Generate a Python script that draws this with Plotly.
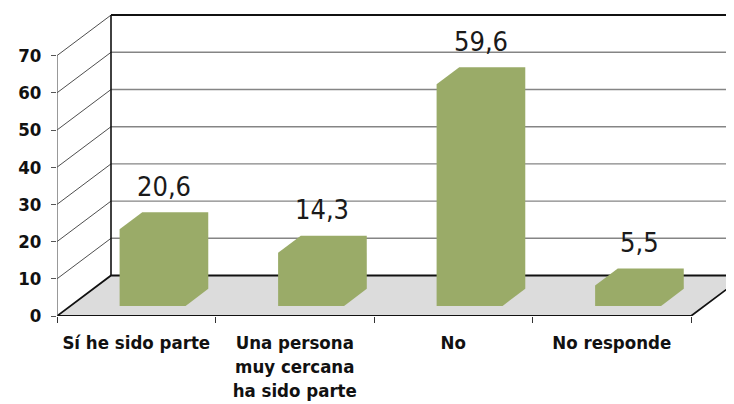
import plotly.graph_objects as go

# ---- data ----
categories = ["Sí he sido parte", "Una persona<br>muy cercana<br>ha sido parte", "No", "No responde"]
values = [20.6, 14.3, 59.6, 5.5]
value_labels = ["20,6", "14,3", "59,6", "5,5"]
y_ticks = [0, 10, 20, 30, 40, 50, 60, 70]

# ---- geometry (in axis units) ----
PX_PER_CAT = 158.5
PX_PER_VAL = 3.72
PAGE_OFFSET = 8           # default body margin of the html page
W, H = 734 - PAGE_OFFSET, 404 - PAGE_OFFSET
ML, MB = 57 - PAGE_OFFSET, 88
x_max = (W - ML) / PX_PER_CAT
y_max = (H - MB) / PX_PER_VAL
DX = 54 / PX_PER_CAT      # depth offset in x units
DY = 40.5 / PX_PER_VAL    # depth offset in y units
F1, F2 = 0.25, 0.67       # bar front / back depth fractions
BW = 66 / PX_PER_CAT      # bar width
BAR_SHIFT = 0.018
top = y_ticks[-1]
n = len(categories)
FONT = "DejaVu Sans Condensed, Liberation Sans Narrow, DejaVu Sans"
BAR_COLOR = "#9AAB68"

fig = go.Figure()

def line_trace(xs, ys, color, width):
    fig.add_trace(go.Scatter(x=xs, y=ys, mode="lines",
                             line=dict(color=color, width=width),
                             hoverinfo="skip", showlegend=False))

# floor
fig.add_trace(go.Scatter(x=[0, n, n + DX, x_max + 1, x_max + 1, DX, 0],
                         y=[0, 0, DY, DY, DY, DY, 0],
                         mode="lines", fill="toself", fillcolor="#DCDCDC",
                         line=dict(width=0), hoverinfo="skip", showlegend=False))

# back wall gridlines
gx, gy = [], []
for v in y_ticks[1:-1]:
    gx += [DX, x_max + 1, None]
    gy += [v + DY, v + DY, None]
line_trace(gx, gy, "#858585", 1.4)

# diagonals from front axis to back wall
dx_, dy_ = [], []
for v in y_ticks[1:]:
    dx_ += [0, DX, None]
    dy_ += [v, v + DY, None]
line_trace(dx_, dy_, "#3A3A3A", 0.9)

# back wall left edge and top border
line_trace([DX, DX], [DY, top + DY], "#111111", 1.6)
line_trace([DX, x_max + 1], [top + DY, top + DY], "#111111", 2)

# floor edges
line_trace([0, DX, x_max + 1], [0, DY, DY], "#111111", 1.8)
line_trace([0, n, n + DX], [0, 0, DY], "#111111", 1.8)

# front axis line
line_trace([0, 0], [0, top], "#555555", 1.2)

# bars (hexagon silhouettes of the 3D boxes)
for i, v in enumerate(values):
    c = i + 0.5 + BAR_SHIFT
    fx0 = c - BW / 2 + F1 * DX
    fx1 = c + BW / 2 + F1 * DX
    fy0 = F1 * DY
    ox, oy = (F2 - F1) * DX, (F2 - F1) * DY
    xs = [fx0, fx0, fx0 + ox, fx1 + ox, fx1 + ox, fx1, fx0]
    ys = [fy0, fy0 + v, fy0 + v + oy, fy0 + v + oy, fy0 + oy, fy0, fy0]
    fig.add_trace(go.Scatter(x=xs, y=ys, mode="lines", fill="toself",
                             fillcolor=BAR_COLOR, line=dict(width=0, color=BAR_COLOR),
                             hoverinfo="skip", showlegend=False))
    fig.add_annotation(x=c + (F1 + F2) / 2 * DX, y=F2 * DY + v, text=value_labels[i],
                       showarrow=False, yanchor="middle", yshift=26,
                       font=dict(family=FONT, size=27, color="#1A1A1A"))

# dummy trace to activate xaxis2
fig.add_trace(go.Scatter(x=[0], y=[0], xaxis="x2", mode="markers",
                         marker=dict(opacity=0), hoverinfo="skip", showlegend=False))

fig.update_layout(
    width=W, height=H,
    margin=dict(l=ML, r=0, t=0, b=MB, autoexpand=False),
    plot_bgcolor="white", paper_bgcolor="white",
    xaxis=dict(range=[0, x_max], showgrid=False, zeroline=False, showline=False,
               automargin=False,
               tickvals=[i + 0.5 for i in range(n)], ticktext=categories,
               ticks="", ticklabelstandoff=13,
               tickfont=dict(family=FONT, size=18.5, color="#111111", weight="bold"),
               fixedrange=True),
    xaxis2=dict(range=[0, x_max], overlaying="x", side="bottom", automargin=False,
                tickvals=list(range(n + 1)), showticklabels=False,
                ticks="outside", ticklen=6, tickcolor="#333333", tickwidth=1.2,
                showgrid=False, zeroline=False, showline=False, fixedrange=True),
    yaxis=dict(range=[0, y_max], showgrid=False, zeroline=False, showline=False,
               automargin=False,
               tickvals=y_ticks, ticks="outside", ticklen=5, tickcolor="#555555",
               ticklabelstandoff=6,
               tickfont=dict(family=FONT, size=18.5, color="#111111", weight="bold"),
               fixedrange=True),
)

fig.write_html("out.html", config={"displayModeBar": False})
